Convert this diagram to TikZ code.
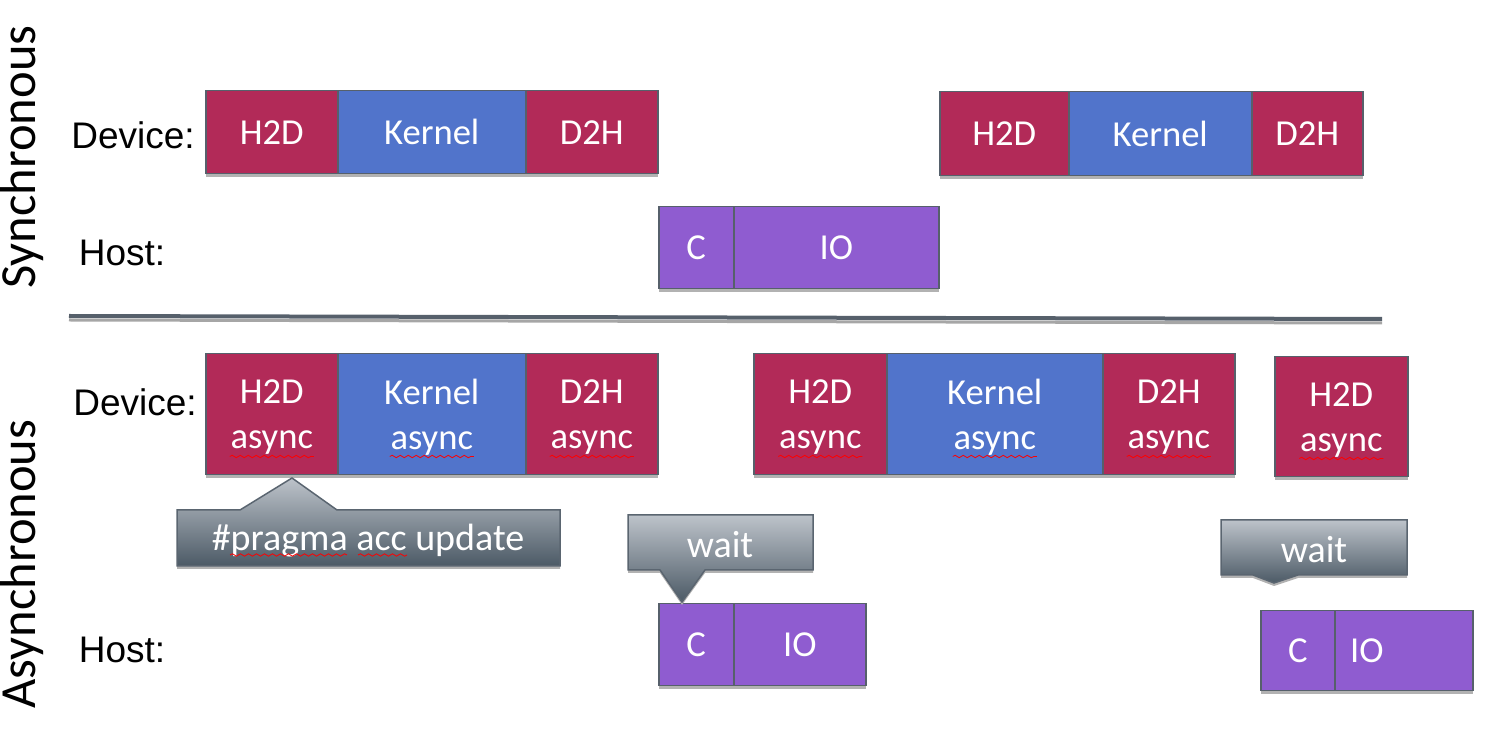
\documentclass[tikz,border=0pt]{standalone}
\usepackage{fontspec}
\setmainfont{Carlito}
\newfontfamily\arialfont{Liberation Sans}
\usetikzlibrary{positioning,shadows,decorations.pathmorphing}
\definecolor{xferred}{HTML}{B22A58}
\definecolor{kernblue}{HTML}{5174CB}
\definecolor{hostpurple}{HTML}{8F5CD0}
\definecolor{boxline}{HTML}{56606B}
\definecolor{calltop}{HTML}{BDC3CA}
\definecolor{callbot}{HTML}{4C5A66}
\definecolor{callline}{HTML}{5A6570}

\begin{document}
\begin{tikzpicture}[x=0.5pt,y=-0.5pt]
  \tikzset{opbox/.style = {shape=rectangle,draw=boxline,line width=0.75pt,text=white,anchor=north west,inner sep=0pt,align=center,
      font=\fontsize{18.3}{22.5}\selectfont,drop shadow={shadow xshift=0pt,shadow yshift=-1.5pt,fill=black!30,opacity=1}}}
  \tikzset{xfer/.style = {opbox,fill=xferred}}
  \tikzset{kern/.style = {opbox,fill=kernblue}}
  \tikzset{hostop/.style = {opbox,fill=hostpurple}}
  \tikzset{twoline/.style = {text depth=-1pt}}
  \tikzset{rowlabel/.style = {font=\arialfont\fontsize{18.5}{22}\selectfont}}
  \tikzset{modelabel/.style = {rotate=90,font=\fontsize{25.3}{30}\selectfont}}
  \tikzset{callout/.style = {top color=calltop,bottom color=callbot,draw=callline,line width=0.75pt}}
  \tikzset{callshadow/.style = {fill=black!30,yshift=-1.5pt}}
  \tikzset{calltext/.style = {text=white,font=\fontsize{19}{22}\selectfont}}
  \tikzset{squig/.style = {red,line width=0.4pt,decorate,decoration={snake,segment length=4pt,amplitude=0.6pt}}}
  \useasboundingbox (0,0) rectangle (1485,748);

  % mode labels
  \node[modelabel] (sync) at (22,157) {Synchronous};
  \node[modelabel] (async) at (22,564) {Asynchronous};

  % row labels
  \node[rowlabel] (devS) at (133,135) {Device:};
  \node[rowlabel] (hostS) at (122,253) {Host:};
  \node[rowlabel] (devA) at (135,402) {Device:};
  \node[rowlabel] (hostA) at (122,650) {Host:};

  % synchronous device
  \node[xfer,minimum width=66pt,minimum height=41.5pt] (h2dS1) at (205,90) {H2D};
  \node[kern,minimum width=94pt,minimum height=41.5pt] (kerS1) at (337,90) {Kernel};
  \node[xfer,minimum width=66pt,minimum height=41.5pt] (d2hS1) at (525,90) {D2H};
  \node[xfer,minimum width=64.5pt,minimum height=42pt] (h2dS2) at (939,91) {H2D};
  \node[kern,minimum width=91.5pt,minimum height=42pt] (kerS2) at (1068,91) {Kernel};
  \node[xfer,minimum width=55.5pt,minimum height=42pt] (d2hS2) at (1251,91) {D2H};

  % synchronous host
  \node[hostop,minimum width=37.5pt,minimum height=41pt] (cS) at (658,206) {C};
  \node[hostop,minimum width=102.5pt,minimum height=41pt] (ioS) at (733,206) {IO};

  % separator
  \coordinate (sepL) at (69,316);
  \coordinate (sepR) at (1382,319);
  \draw[black!35,line width=1.5pt] ([yshift=-2pt]sepL) -- ([yshift=-2pt]sepR);
  \draw[boxline,line width=2pt] (sepL) -- (sepR);

  % asynchronous device
  \node[xfer,twoline,minimum width=66pt,minimum height=60.5pt] (h2dA1) at (205,353) {H2D\\async};
  \node[kern,twoline,minimum width=94pt,minimum height=60.5pt] (kerA1) at (337,353) {Kernel\\async};
  \node[xfer,twoline,minimum width=66pt,minimum height=60.5pt] (d2hA1) at (525,353) {D2H\\async};
  \node[xfer,twoline,minimum width=66.5pt,minimum height=60.5pt] (h2dA2) at (753,353) {H2D\\async};
  \node[kern,twoline,minimum width=108pt,minimum height=60.5pt] (kerA2) at (886,353) {Kernel\\async};
  \node[xfer,twoline,minimum width=66pt,minimum height=60.5pt] (d2hA2) at (1102,353) {D2H\\async};
  \node[xfer,twoline,minimum width=66.5pt,minimum height=60pt] (h2dA3) at (1274,356) {H2D\\async};

  \foreach \blk in {h2dA1,kerA1,d2hA1,h2dA2,kerA2,d2hA2,h2dA3}
    \draw[squig] ([xshift=-21pt,yshift=9.5pt]\blk.south) -- ([xshift=21pt,yshift=9.5pt]\blk.south);

  % asynchronous host
  \node[hostop,minimum width=37.5pt,minimum height=41pt] (cA1) at (658,603) {C};
  \node[hostop,minimum width=66pt,minimum height=41pt] (ioA1) at (733,603) {IO};
  \node[hostop,minimum width=37pt,minimum height=40pt] (cA2) at (1260,610) {C};
  \node[hostop,minimum width=69pt,minimum height=40pt] (ioA2) at (1334,610) {IO\hspace*{37pt}};

  % callouts
  \fill[callshadow] (177,510) -- (240,510) -- (292,478) -- (337,510) -- (560,510) -- (560,566) -- (177,566) -- cycle;
  \shade[callout] (177,510) -- (240,510) -- (292,478) -- (337,510) -- (560,510) -- (560,566) -- (177,566) -- cycle;
  \node[calltext] (pragma) at (368,541) {\#pragma acc update};
  \draw[squig] (230,555) -- (347,555);
  \draw[squig] (358,555) -- (407,555);

  \fill[callshadow] (628,515) -- (813,515) -- (813,570) -- (705,570) -- (682,602) -- (660,570) -- (628,570) -- cycle;
  \shade[callout] (628,515) -- (813,515) -- (813,570) -- (705,570) -- (682,602) -- (660,570) -- (628,570) -- cycle;
  \node[calltext] (wait1) at (720,545) {wait};

  \fill[callshadow] (1221,520) -- (1407,520) -- (1407,575) -- (1298,575) -- (1274,583) -- (1253,575) -- (1221,575) -- cycle;
  \shade[callout] (1221,520) -- (1407,520) -- (1407,575) -- (1298,575) -- (1274,583) -- (1253,575) -- (1221,575) -- cycle;
  \node[calltext] (wait2) at (1314,550) {wait};

\end{tikzpicture}
\end{document}
